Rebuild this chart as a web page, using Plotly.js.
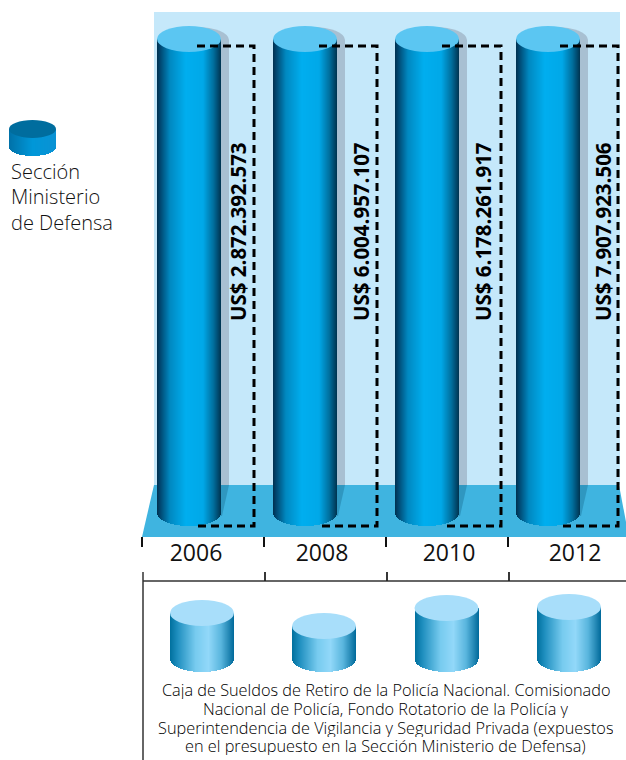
<!DOCTYPE html>
<html><head><meta charset="utf-8">
<script src="https://cdn.plot.ly/plotly-3.0.1.min.js"></script>
<style>html,body{margin:0;padding:0;background:#fff;overflow:hidden}</style>
</head><body><div id="chart" style="width:626px;height:760px"></div>
<script>
// ---- data ----
const years = ['2006','2008','2010','2012'];
const defensaLabels = ['US$ 2.872.392.573','US$ 6.004.957.107','US$ 6.178.261.917','US$ 7.907.923.506'];
const defensaHeights = [474,474,474,474];
const policiaHeights = [46,33,51,52];
const legendHeight = [18];
const legendLines = ['Sección','Ministerio','de Defensa'];
const captionLines = ['Caja de Sueldos de Retiro de la Policía Nacional. Comisionado',
 'Nacional de Policía, Fondo Rotatorio de la Policía y',
 'Superintendencia de Vigilancia y Seguridad Privada (expuestos',
 'en el presupuesto en la Sección Ministerio de Defensa)'];

// ---- layout constants ----
const W=626,H=760;
const defensaX=[189,305,427,548], policiaX=[202,324,446.5,569], labelX=[196,322,449,575];
const boxLeft=[197,319,442,560], boxRight=[254,377,501,618], valueX=[238,361,483,603];
const tickX=[142,264,386,508];
const zeroTop=513, zeroLow=659;           // pixel rows of the cylinder floors
const topBottomPx=537, lowTopPx=572;
const RX=32, RY=13;
const yT=p=>zeroTop-p;                    // row -> units on y
const mainStops=[[0,'#00304f'],[0.05,'#00466f'],[0.2,'#0088c0'],[0.45,'#00aeef'],[0.72,'#00a8e8'],[0.88,'#006f9e'],[1,'#003350']];
const lowStops=[[0,'#00709e'],[0.12,'#1f8fbf'],[0.4,'#77cbef'],[0.6,'#92d8f9'],[0.8,'#58b5dd'],[1,'#00699a']];
const legStops=[[0,'#0071a8'],[0.5,'#0097d8'],[1,'#0a92d4']];

function hex(c){return [1,3,5].map(i=>parseInt(c.slice(i,i+2),16));}
function colourAt(stops,t){
  for(let i=1;i<stops.length;i++){ if(t<=stops[i][0]){
    const a=stops[i-1],b=stops[i],f=(t-a[0])/(b[0]-a[0]);
    const A=hex(a[1]),B=hex(b[1]);
    return 'rgb('+A.map((v,k)=>Math.round(v+(B[k]-v)*f)).join(',')+')';
  }}
  return stops[stops.length-1][1];
}
function cylinder(name,cx,height,rx,ry,stops,yaxis){
  const xs=[],ys=[],bs=[],cs=[];
  const left=Math.round(cx-rx), n=Math.round(rx*2);
  for(let i=0;i<n;i++){
    const px=left+i+0.5, u=(px-cx)/rx, d=ry*Math.sqrt(Math.max(0,1-u*u));
    xs.push(px); bs.push(-d); ys.push(height+d); cs.push(colourAt(stops,(i+0.5)/n));
  }
  return {type:'bar',name,x:xs,y:ys,base:bs,width:1,yaxis,xaxis:'x',orientation:'v',
    marker:{color:cs,line:{width:0}},hoverinfo:'skip',showlegend:false};
}
const ellipse=(cx,cy,rx,ry,fill,yref,layer)=>({type:'circle',xref:'x',yref,x0:cx-rx,x1:cx+rx,y0:cy-ry,y1:cy+ry,fillcolor:fill,line:{width:0},layer});

const traces=[];
years.forEach((y,i)=>traces.push(cylinder('Sección Ministerio de Defensa '+y,defensaX[i],defensaHeights[i],RX,RY,mainStops,'y')));
years.forEach((y,i)=>traces.push(cylinder('Caja de Sueldos '+y,policiaX[i],policiaHeights[i],RX,RY,lowStops,'y2')));
const LEGX=32.5,LEGBASE=yT(147);
const legTrace=cylinder('Leyenda',LEGX,legendHeight[0],23.5,9,legStops,'y');
legTrace.base=legTrace.base.map(b=>b+LEGBASE);
traces.push(legTrace);

const shapes=[];
// back wall & floor
shapes.push({type:'rect',xref:'x',yref:'y',x0:154,x1:620,y0:yT(485),y1:yT(12),fillcolor:'#c5e8fa',line:{width:0},layer:'below'});
shapes.push({type:'path',xref:'x',yref:'y',path:`M154,${yT(485)} L619,${yT(485)} L626,${yT(522)} L626,${yT(537)} L142,${yT(537)} Z`,fillcolor:'#3fb4e0',line:{width:0},layer:'below'});
// cast shadows
defensaX.forEach((cx,i)=>{
  const h=defensaHeights[i];
  shapes.push({type:'rect',xref:'x',yref:'y',x0:cx,x1:cx+RX+8,y0:yT(485),y1:h-1,fillcolor:'#a8c0d2',line:{width:0},layer:'below'});
  shapes.push(ellipse(cx+8,h-1,RX,RY,'#a8c0d2','y','below'));
  shapes.push({type:'path',xref:'x',yref:'y',path:`M${cx},${yT(485)} L${cx+RX+8},${yT(485)} L${cx+RX+1},${yT(516)} L${cx},${yT(516)} Z`,fillcolor:'#2f97c0',line:{width:0},layer:'below'});
});
// cylinder tops
defensaX.forEach((cx,i)=>shapes.push(ellipse(cx,defensaHeights[i],RX,RY,'#5bc6f2','y','above')));
policiaX.forEach((cx,i)=>shapes.push(ellipse(cx,policiaHeights[i],RX,RY,'#a8defa','y2','above')));
shapes.push(ellipse(LEGX,LEGBASE+legendHeight[0],23.5,9,'#006d9e','y','above'));
// dashed open boxes
boxLeft.forEach((l,i)=>{
  shapes.push({type:'path',xref:'x',yref:'y',path:`M${l},${yT(46)} L${boxRight[i]},${yT(46)} L${boxRight[i]},${yT(526)} L${l},${yT(526)}`,
    fillcolor:'rgba(0,0,0,0)',line:{color:'#000',width:3,dash:'8px,5px'},layer:'above'});
});
// year ticks
tickX.forEach(t=>shapes.push({type:'line',xref:'x',yref:'paper',x0:t,x1:t,y0:1-547/H,y1:1-537/H,line:{color:'#111',width:2},layer:'above'}));
// lower bracket
shapes.push({type:'line',xref:'x',yref:'paper',x0:143,x1:143,y0:0,y1:1-lowTopPx/H,line:{color:'#333',width:1.5},layer:'above'});
shapes.push({type:'line',xref:'x',yref:'paper',x0:143,x1:626,y0:1-581/H,y1:1-581/H,line:{color:'#333',width:1.5},layer:'above'});
tickX.slice(1).forEach(t=>shapes.push({type:'line',xref:'x',yref:'paper',x0:t+1,x1:t+1,y0:1-581/H,y1:1-lowTopPx/H,line:{color:'#222',width:1.8},layer:'above'}));

const txt='#111';
const annotations=[];
defensaLabels.forEach((t,i)=>annotations.push({xref:'x',yref:'y',x:valueX[i],y:yT(232),text:t,textangle:-90,showarrow:false,
  font:{family:'"Open Sans",sans-serif',size:20.5,color:'#000',weight:700}}));
legendLines.forEach((t,i)=>annotations.push({xref:'x',yref:'y',x:9,y:yT([171,196,222][i]),text:t,showarrow:false,xanchor:'left',
  font:{family:'"Open Sans",sans-serif',size:20,color:txt,weight:300}}));
captionLines.forEach((t,i)=>annotations.push({xref:'x',yref:'y2',x:385.5,y:zeroLow-[690,708.5,727.5,746][i],text:t,showarrow:false,xanchor:'center',height:18,
  font:{family:'"Open Sans",sans-serif',size:16.3,color:'#000',weight:300}}));

const layout={width:W,height:H,margin:{l:0,r:0,t:0,b:0,pad:0},paper_bgcolor:'#fff',plot_bgcolor:'rgba(0,0,0,0)',
  barmode:'overlay',bargap:0,showlegend:false,
  xaxis:{range:[0,W],domain:[0,1],anchor:'y',showgrid:false,zeroline:false,showline:false,fixedrange:true,
    tickmode:'array',tickvals:labelX,ticktext:years,ticks:'',
    tickfont:{family:'"Open Sans",sans-serif',size:23,color:'#111'}},
  yaxis:{domain:[1-topBottomPx/H,1],range:[yT(topBottomPx),yT(0)],visible:false,fixedrange:true},
  yaxis2:{domain:[0,1-lowTopPx/H],range:[zeroLow-H,zeroLow-lowTopPx],anchor:'x',visible:false,fixedrange:true},
  shapes,annotations};
Plotly.newPlot('chart',traces,layout,{staticPlot:true,displayModeBar:false});
</script></body></html>
